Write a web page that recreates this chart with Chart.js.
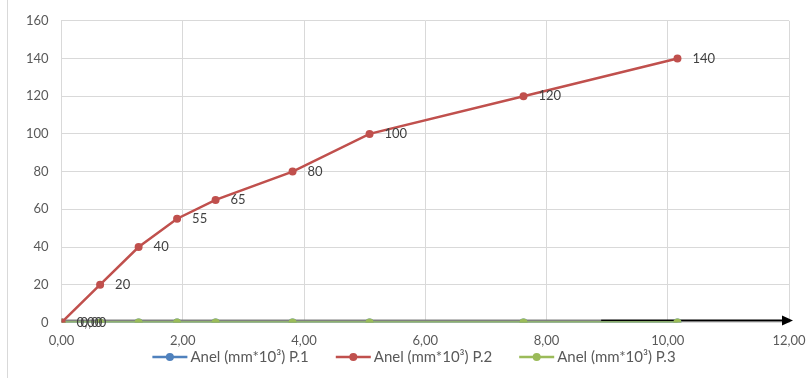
<!DOCTYPE html>
<html>
<head>
<meta charset="utf-8">
<script src="https://cdn.jsdelivr.net/npm/chart.js@4"></script>
<style>
  html, body { margin: 0; padding: 0; background: #fff; }
  #wrap { width: 810px; height: 378px; position: relative; }
</style>
</head>
<body>
<div id="wrap"><canvas id="chart"></canvas></div>
<script>
// data
const xValues = [0, 0.635, 1.27, 1.905, 2.54, 3.81, 5.08, 7.62, 10.16];
const p1 = [0, 0, 0, 0, 0, 0, 0, 0, 0];
const p2 = [0, 20, 40, 55, 65, 80, 100, 120, 140];
const p3 = [0, 0, 0, 0, 0, 0, 0, 0, 0];
const seriesNames = ["Anel (mm*10³) P.1", "Anel (mm*10³) P.2", "Anel (mm*10³) P.3"];
const colors = ["#4F81BD", "#C0504D", "#9BBB59"];
const xTicks = [0, 2, 4, 6, 8, 10, 12];
const yTicks = [0, 20, 40, 60, 80, 100, 120, 140, 160];

const FONT = "Lato, 'Open Sans', sans-serif";

function toPoints(ys) {
  return xValues.map((x, i) => ({ x: x, y: ys[i] }));
}

// labels beside points
const pointLabels = {
  id: "pointLabels",
  afterDatasetsDraw(chart) {
    const ctx = chart.ctx;
    ctx.save();
    ctx.font = "13px " + FONT;
    ctx.fillStyle = "#404040";
    ctx.textAlign = "left";
    ctx.textBaseline = "middle";
    chart.data.datasets.forEach((ds, di) => {
      const meta = chart.getDatasetMeta(di);
      (ds.labelTexts || []).forEach((t, i) => {
        if (t == null) return;
        const p = meta.data[i];
        ctx.fillText(t, p.x + 15 + (ds.labelShift || 0), p.y);
      });
    });
    ctx.restore();
  }
};

// legend drawn by hand: line + dot marker, then text
const bottomLegend = {
  id: "bottomLegend",
  afterDraw(chart) {
    const ctx = chart.ctx;
    ctx.save();
    ctx.font = "15px " + FONT;
    ctx.textBaseline = "middle";
    ctx.textAlign = "left";
    const y = 357, markW = 35, gap = 3, spacing = 27;
    const widths = seriesNames.map((s) => markW + gap + ctx.measureText(s).width);
    const total = widths.reduce((a, b) => a + b, 0) + spacing * (widths.length - 1);
    let x = 414 - total / 2;
    seriesNames.forEach((s, i) => {
      ctx.strokeStyle = colors[i];
      ctx.lineWidth = 2.5;
      ctx.beginPath();
      ctx.moveTo(x, y);
      ctx.lineTo(x + markW, y);
      ctx.stroke();
      ctx.fillStyle = colors[i];
      ctx.beginPath();
      ctx.arc(x + markW / 2, y, 4, 0, Math.PI * 2);
      ctx.fill();
      ctx.fillStyle = "#595959";
      ctx.fillText(s, x + markW + gap, y);
      x += widths[i] + spacing;
    });
    ctx.restore();
  }
};

// axis arrow + left frame line
const decorations = {
  id: "decorations",
  beforeDatasetsDraw(chart) {
    const ctx = chart.ctx;
    const xs = chart.scales.x, ys = chart.scales.y;
    const y0 = ys.getPixelForValue(0) - 2;
    ctx.save();
    ctx.lineWidth = 2;
    ctx.strokeStyle = "#808080";
    ctx.beginPath();
    ctx.moveTo(xs.getPixelForValue(0), y0);
    ctx.lineTo(xs.getPixelForValue(8.9), y0);
    ctx.stroke();
    ctx.strokeStyle = "#000";
    ctx.beginPath();
    ctx.moveTo(xs.getPixelForValue(8.9), y0);
    ctx.lineTo(xs.getPixelForValue(12) - 6, y0);
    ctx.stroke();
    const tip = xs.getPixelForValue(12) + 4;
    ctx.fillStyle = "#000";
    ctx.beginPath();
    ctx.moveTo(tip, y0);
    ctx.lineTo(tip - 11, y0 - 5);
    ctx.lineTo(tip - 11, y0 + 5);
    ctx.closePath();
    ctx.fill();
    ctx.restore();
  },
  afterDraw(chart) {
    const ctx = chart.ctx;
    ctx.save();
    ctx.strokeStyle = "#d9d9d9";
    ctx.lineWidth = 1;
    ctx.beginPath();
    ctx.moveTo(7.5, 0);
    ctx.lineTo(7.5, chart.height);
    ctx.stroke();
    ctx.restore();
  }
};

new Chart(document.getElementById("chart"), {
  type: "line",
  data: {
    datasets: [
      {
        label: seriesNames[0],
        data: toPoints(p1),
        borderColor: colors[0],
        backgroundColor: colors[0],
        labelTexts: ["0,00"],
        labelShift: 4,
        order: 3,
      },
      {
        label: seriesNames[1],
        data: toPoints(p2),
        borderColor: colors[1],
        backgroundColor: colors[1],
        labelTexts: [null].concat(p2.slice(1).map(String)),
        order: 1,
      },
      {
        label: seriesNames[2],
        data: toPoints(p3),
        borderColor: colors[2],
        backgroundColor: colors[2],
        labelTexts: ["0,00"],
        order: 2,
      },
    ],
  },
  options: {
    responsive: true,
    maintainAspectRatio: false,
    animation: false,
    elements: {
      line: { borderWidth: 2.5, tension: 0 },
      point: { radius: 4, hoverRadius: 4, borderWidth: 0 },
    },
    layout: { padding: { left: 13, right: 0, top: 12, bottom: 18 } },
    scales: {
      x: {
        type: "linear",
        min: 0,
        max: 12,
        afterBuildTicks: (s) => { s.ticks = xTicks.map((v) => ({ value: v })); },
        afterFit: (s) => { s.paddingRight = 21; },
        ticks: {
          color: "#595959",
          font: { family: FONT, size: 13 },
          padding: 11,
          callback: (v) => v.toFixed(2).replace(".", ","),
        },
        grid: { color: "#d9d9d9", drawTicks: false },
        border: { color: "#d9d9d9" },
      },
      y: {
        min: 0,
        max: 160,
        afterBuildTicks: (s) => { s.ticks = yTicks.map((v) => ({ value: v })); },
        ticks: {
          color: "#595959",
          font: { family: FONT, size: 13 },
          padding: 13,
        },
        grid: { color: "#d9d9d9", drawTicks: false },
        border: { color: "#d9d9d9" },
      },
    },
    plugins: {
      legend: { display: false },
      tooltip: { enabled: false },
    },
  },
  plugins: [pointLabels, bottomLegend, decorations],
});
</script>
</body>
</html>
